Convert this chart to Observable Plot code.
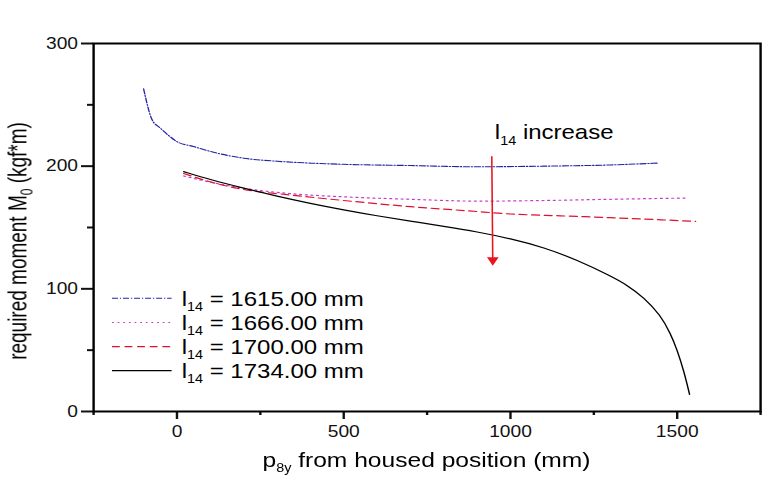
<!DOCTYPE html>
<html>
<head>
<meta charset="utf-8">
<script src="https://cdn.jsdelivr.net/npm/d3@7"></script>
<script src="https://cdn.jsdelivr.net/npm/@observablehq/plot@0.6"></script>
<style>
  html, body { margin: 0; padding: 0; background: #fff; overflow: hidden; }
  #wrap { transform-origin: 0 0; }
  text { font-family: "Liberation Sans", Arial, sans-serif; }
</style>
</head>
<body>
<div id="wrap"></div>
<script>
// ---- data ----
const seriesNames = ["1615.00", "1666.00", "1700.00", "1734.00"];

const x1615 = [-100, -75, -50, -25, 0, 50, 100, 200, 300, 400, 500, 700, 900, 1100, 1300, 1440];
const y1615 = [263, 238, 231, 225, 220, 216, 212, 206.5, 204, 202.5, 201.5, 200.5, 199.5, 200, 201, 202.5];

const x1666 = [20, 100, 200, 336, 500, 700, 900, 1100, 1300, 1525];
const y1666 = [192, 187, 182, 177.7, 175, 173, 171.5, 172, 173, 174];

const x1700 = [20, 126, 200, 336, 500, 700, 876, 1000, 1150, 1300, 1555];
const y1700 = [194, 185.3, 181, 176.6, 172, 167, 163.5, 161, 159.5, 158, 155];

const x1734 = [20, 100, 200, 300, 400, 500, 600, 700, 800, 900, 1000, 1100, 1200, 1300, 1350, 1400, 1450, 1480, 1500, 1520, 1537];
const y1734 = [195.5, 189, 182, 175.5, 169.6, 164.3, 159.5, 155.2, 151, 146.5, 141, 133.8, 123.5, 110.5, 103, 93, 78.5, 63.5, 50, 33, 14];

const xMajorTicks = [0, 500, 1000, 1500];
const xMinorTicks = [-250, 250, 750, 1250, 1750];
const yMajorTicks = [0, 100, 200, 300];
const yMinorTicks = [50, 150, 250];

// annotation arrow (data units) and its label anchor
const arrowFrom = {x: 944, y: 208};
const arrowTo = {x: 947, y: 121};
const noteAt = {x: 955, y: 222};

// ---- styles ----
const styles = [
  {color: "#2323a8", dash: "5,1.6,1,1.6", width: 1.1, curve: "monotone-x"},
  {color: "#c93cc9", dash: "1.5,3.2", width: 1.2, curve: "monotone-x"},
  {color: "#de1030", dash: "6.5,4", width: 1.2, curve: "monotone-x"},
  {color: "#000000", dash: null, width: 1.2, curve: "basis"}
];

const xs = [x1615, x1666, x1700, x1734];
const ys = [y1615, y1666, y1700, y1734];
const tables = xs.map((xa, i) => xa.map((x, j) => ({x, y: ys[i][j], s: seriesNames[i]})));

const S = 1.2;            // horizontal stretch of the reference
const W = 781 / S, H = 483;
const mL = 77.5, mR = 17.5, mT = 43, mB = 72;
const red = "#e8141e";

const lineMarks = tables.map((t, i) => Plot.line(t, {
  x: "x", y: "y", curve: styles[i].curve,
  stroke: styles[i].color, strokeWidth: styles[i].width,
  strokeDasharray: styles[i].dash
}));

const fmt = d => String(d);

const plot = Plot.plot({
  width: W, height: H,
  marginLeft: mL, marginRight: mR, marginTop: mT, marginBottom: mB,
  x: {domain: [-250, 1750]},
  y: {domain: [0, 300]},
  style: {fontFamily: '"Liberation Sans", Arial, sans-serif', fontSize: "16px", color: "#111", background: "#fff", overflow: "visible"},
  marks: [
    Plot.axisX(xMajorTicks, {tickSize: 8, tickPadding: 6, strokeWidth: 2, fontSize: 16, tickFormat: fmt, label: null}),
    Plot.axisX(xMinorTicks, {tickSize: 4, strokeWidth: 2, tickFormat: () => "", label: null}),
    Plot.axisY(yMajorTicks, {tickSize: 10, tickPadding: 3, strokeWidth: 2, fontSize: 16, tickFormat: fmt, label: null}),
    Plot.axisY(yMinorTicks, {tickSize: 5, strokeWidth: 2, tickFormat: () => "", label: null}),
    ...lineMarks,
    Plot.link([{x1: arrowFrom.x, y1: arrowFrom.y, x2: arrowTo.x, y2: arrowTo.y}],
      {x1: "x1", y1: "y1", x2: "x2", y2: "y2", stroke: red, strokeWidth: 1.3}),
    Plot.dot([arrowTo], {x: "x", y: "y", symbol: "triangle", r: 3.6, rotate: 180, fill: red, stroke: "none", dy: -3}),
    Plot.frame({strokeWidth: 2, stroke: "#000"})
  ]
});

const wrap = document.getElementById("wrap");
wrap.style.width = W + "px";
wrap.style.transform = `scaleX(${S})`;
wrap.appendChild(plot);

const svg = d3.select(plot);
const xS = plot.scale("x"), yS = plot.scale("y");
const font = '"Liberation Sans", Arial, sans-serif';

// axis titles
const xt = svg.append("text").attr("x", mL + (W - mL - mR) / 2).attr("y", 467)
  .attr("text-anchor", "middle").attr("font-size", 20.5).attr("fill", "#000").attr("font-family", font);
xt.append("tspan").text("p");
xt.append("tspan").attr("font-size", 12).attr("dy", 5).text("8y");
xt.append("tspan").attr("dy", -5).text(" from housed position (mm)");

const yt = svg.append("text").attr("transform", `translate(22,241) rotate(-90) scale(1,1.15)`)
  .attr("text-anchor", "middle").attr("font-size", 19).attr("fill", "#000").attr("font-family", font);
yt.append("tspan").text("required moment M");
yt.append("tspan").attr("font-size", 12).attr("dy", 4).text("0");
yt.append("tspan").attr("dy", -4).text(" (kgf*m)");

// annotation
const nt = svg.append("text").attr("x", xS.apply(noteAt.x)).attr("y", yS.apply(noteAt.y))
  .attr("text-anchor", "start")
  .attr("font-size", 20).attr("fill", "#000").attr("font-family", font);
nt.append("tspan").text("l");
nt.append("tspan").attr("font-size", 12).attr("dy", 6).text("14");
nt.append("tspan").attr("dy", -6).text(" increase");

// legend
const legY = [298.3, 322.5, 346.6, 370.7];
seriesNames.forEach((name, i) => {
  const g = svg.append("g");
  g.append("line").attr("x1", 93.3).attr("x2", 143).attr("y1", legY[i]).attr("y2", legY[i])
    .attr("stroke", styles[i].color).attr("stroke-width", styles[i].width)
    .attr("stroke-dasharray", styles[i].dash);
  const t = g.append("text").attr("x", 151.4).attr("y", legY[i] + 7.5)
    .attr("text-anchor", "start")
    .attr("font-size", 20).attr("fill", "#000").attr("font-family", font);
  t.append("tspan").text("l");
  t.append("tspan").attr("font-size", 12).attr("dy", 5).text("14");
  t.append("tspan").attr("dy", -5).text(` = ${name} mm`);
});
</script>
</body>
</html>
